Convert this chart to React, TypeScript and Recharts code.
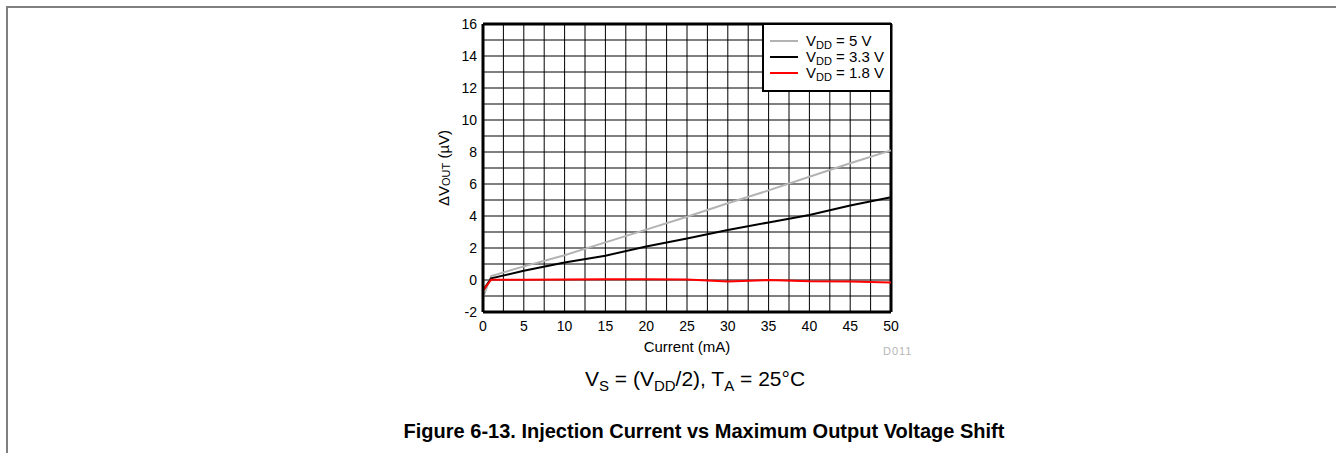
import { LineChart, Line, XAxis, YAxis, CartesianGrid, ReferenceLine, Legend } from 'recharts';

// injection current (mA)
const current = [0, 1, 5, 10, 15, 20, 25, 30, 35, 40, 45, 50];
// output voltage shift (uV) per supply
const vdd5 = [-1.1, 0.25, 0.85, 1.55, 2.35, 3.15, 3.95, 4.8, 5.6, 6.45, 7.3, 8.1];
const vdd33 = [-0.65, 0.1, 0.58, 1.1, 1.52, 2.1, 2.6, 3.12, 3.6, 4.06, 4.65, 5.17];
const vdd18 = [-0.65, 0.02, 0.02, 0.03, 0.04, 0.05, 0.03, -0.1, 0.0, -0.08, -0.1, -0.15];

const xTicks = [0, 2.5, 5, 7.5, 10, 12.5, 15, 17.5, 20, 22.5, 25, 27.5, 30, 32.5, 35, 37.5, 40, 42.5, 45, 47.5, 50];
const yTicks = [-2, -1, 0, 1, 2, 3, 4, 5, 6, 7, 8, 9, 10, 11, 12, 13, 14, 15, 16];

const series = [
  { key: 'v5', label: '5 V', color: '#b3b3b3' },
  { key: 'v33', label: '3.3 V', color: '#000000' },
  { key: 'v18', label: '1.8 V', color: '#ff0000' },
];

const data = current.map((x, i) => ({ x, v5: vdd5[i], v33: vdd33[i], v18: vdd18[i] }));

const FONT = '"Liberation Sans", Arial, Helvetica, sans-serif';

const YLabel = (props: any) => {
  const vb = props.viewBox || {};
  const cx = 443;
  const cy = vb.height ? vb.y + vb.height / 2 : 168;
  return (
    <text
      x={cx}
      y={cy}
      transform={`rotate(-90 ${cx} ${cy})`}
      textAnchor="middle"
      dominantBaseline="central"
      fontSize={15}
      fill="#000"
    >
      ΔV
      <tspan fontSize={11} dy={3}>OUT</tspan>
      <tspan dy={-3}> (µV)</tspan>
    </text>
  );
};

const LegendBox = () => (
  <div
    style={{
      boxSizing: 'border-box',
      width: 130,
      height: 69,
      border: '2px solid #000',
      background: '#fff',
      padding: '8px 0 0 6px',
      fontSize: 15,
      lineHeight: '16px',
      color: '#000',
    }}
  >
    {series.map((s) => (
      <div key={s.key} style={{ display: 'flex', alignItems: 'center', height: 16 }}>
        <span style={{ display: 'inline-block', width: 28, height: 2, background: s.color, marginRight: 8 }} />
        <span style={{ whiteSpace: 'nowrap' }}>
          V<sub style={{ fontSize: 11, verticalAlign: -3, lineHeight: 0 }}>DD</sub> = {s.label}
        </span>
      </div>
    ))}
  </div>
);

export default function App() {
  return (
    <div style={{ position: 'absolute', left: 0, top: 0, width: 1336, height: 453, fontFamily: FONT, background: '#fff' }}>
      <div
        style={{
          position: 'absolute',
          left: 6,
          top: 6,
          width: 1330,
          height: 447,
          borderTop: '2px solid #7f7f7f',
          borderLeft: '2px solid #7f7f7f',
          boxSizing: 'border-box',
        }}
      />
      <div style={{ position: 'absolute', left: 0, top: 0 }}>
        <LineChart width={1336} height={453} data={data} margin={{ top: 24, right: 445, bottom: 111, left: 443 }}>
          <CartesianGrid stroke="#000" strokeWidth={1} />
          <XAxis
            type="number"
            dataKey="x"
            domain={[0, 50]}
            ticks={xTicks}
            interval={0}
            tickFormatter={(v: number) => (v % 5 === 0 ? String(v) : '')}
            tickSize={0}
            tickMargin={9}
            height={30}
            axisLine={{ stroke: '#000', strokeWidth: 3 }}
            tick={{ fill: '#000', fontSize: 14 }}
            label={{ value: 'Current (mA)', position: 'bottom', offset: -1, fill: '#000', fontSize: 15 }}
          />
          <YAxis
            type="number"
            domain={[-2, 16]}
            ticks={yTicks}
            interval={0}
            tickFormatter={(v: number) => (v % 2 === 0 ? String(v) : '')}
            tickSize={0}
            tickMargin={6}
            width={40}
            axisLine={{ stroke: '#000', strokeWidth: 3 }}
            tick={{ fill: '#000', fontSize: 14 }}
            label={{ content: YLabel }}
          />
          <ReferenceLine x={50} stroke="#000" strokeWidth={3} />
          <ReferenceLine y={16} stroke="#000" strokeWidth={3} />
          {series.map((s) => (
            <Line
              key={s.key}
              type="linear"
              dataKey={s.key}
              stroke={s.color}
              strokeWidth={2}
              dot={false}
              isAnimationActive={false}
            />
          ))}
          <Legend
            layout="vertical"
            align="center"
            verticalAlign="middle"
            content={LegendBox}
            wrapperStyle={{ left: 762, top: 23, width: 130, height: 69 }}
          />
        </LineChart>
      </div>
      <div style={{ position: 'absolute', left: 883, top: 345, fontSize: 11, letterSpacing: 1, color: '#b5b5b5' }}>D011</div>
      <div style={{ position: 'absolute', left: 495, top: 367, width: 400, textAlign: 'center', fontSize: 21, color: '#000' }}>
        V<sub style={{ fontSize: 15, verticalAlign: -5, lineHeight: 0 }}>S</sub> = (V
        <sub style={{ fontSize: 15, verticalAlign: -5, lineHeight: 0 }}>DD</sub>/2), T
        <sub style={{ fontSize: 15, verticalAlign: -5, lineHeight: 0 }}>A</sub> = 25°C
      </div>
      <div
        style={{
          position: 'absolute',
          left: 304,
          top: 420,
          width: 800,
          textAlign: 'center',
          fontSize: 20,
          fontWeight: 'bold',
          color: '#000',
        }}
      >
        Figure 6-13. Injection Current vs Maximum Output Voltage Shift
      </div>
    </div>
  );
}
